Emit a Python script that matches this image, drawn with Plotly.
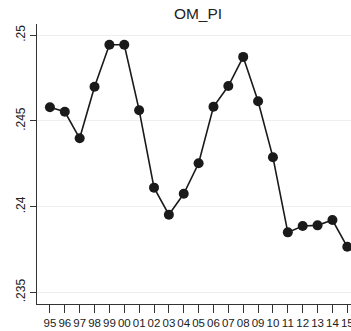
import plotly.graph_objects as go

years = list(range(1995, 2016))
year_labels = ["95", "96", "97", "98", "99", "00", "01", "02", "03", "04", "05",
               "06", "07", "08", "09", "10", "11", "12", "13", "14", "15"]
om_pi = [0.24580, 0.24554, 0.24399, 0.24700, 0.24945, 0.24945, 0.24563,
         0.24111, 0.23953, 0.24075, 0.24253, 0.24583, 0.24704, 0.24874,
         0.24615, 0.24288, 0.23850, 0.23887, 0.23891, 0.23922, 0.23766]
y_ticks = [0.235, 0.24, 0.245, 0.25]
y_tick_labels = [".235", ".24", ".245", ".25"]

fig = go.Figure()
fig.add_trace(go.Scatter(
    x=years, y=om_pi, mode="lines+markers",
    line=dict(color="#1a1a1a", width=1.6),
    marker=dict(color="#1a1a1a", size=10),
    showlegend=False,
    cliponaxis=False,
))

fig.update_layout(
    width=351, height=331,
    margin=dict(l=37, r=0, t=24, b=27, autoexpand=False),
    paper_bgcolor="white", plot_bgcolor="white",
    font=dict(family="Liberation Sans, Arial, sans-serif", color="#222", size=11),
    title=dict(text="OM_PI", x=(198 - 37) / 314, xref="paper", xanchor="center",
               y=1 - 13.5 / 331, yanchor="middle",
               font=dict(size=15.5, color="#222"), automargin=False),
)
fig.update_xaxes(
    range=[1994.13, 2015.25],
    tickvals=years, ticktext=year_labels, tickangle=0,
    ticks="outside", ticklen=8, tickcolor="#333", tickwidth=1,
    showline=True, linecolor="#333", linewidth=1,
    showgrid=False, zeroline=False, automargin=False,
    ticklabeloverflow="allow",
    tickfont=dict(size=11.5, color="#222"),
)
fig.update_yaxes(
    range=[0.23432, 0.25066],
    tickvals=y_ticks, ticktext=y_tick_labels, tickangle=-90,
    ticks="outside", ticklen=6, tickcolor="#333", tickwidth=1,
    showline=True, linecolor="#333", linewidth=1,
    showgrid=True, gridcolor="#eeeeee", gridwidth=1,
    zeroline=False, automargin=False,
    tickfont=dict(size=12, color="#222"),
)

fig.write_html("out.html")
